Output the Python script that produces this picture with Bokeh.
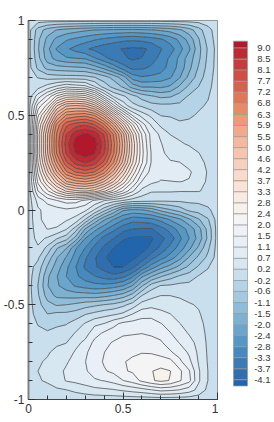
import numpy as np
from bokeh.embed import file_html
from bokeh.resources import INLINE
from bokeh.plotting import figure
from bokeh.layouts import row
from bokeh.models import Range1d, FixedTicker, ColumnDataSource
from bokeh.core.properties import value

x_values = [round(i * 0.05, 2) for i in range(21)]
y_values = [round(1 - i * 0.05, 2) for i in range(41)]

# field, rows from y=1 down to y=-1, columns x=0..1
field = [
[0]*21,
[0,-.8,-1.25,-1.5,-1.65,-1.75,-1.85,-1.92,-1.97,-2.0,-2.02,-2.05,-2.0,-1.95,-1.85,-1.75,-1.55,-1.25,-.8,-.3,0],
[0,-.95,-1.6,-2.05,-2.3,-2.45,-2.6,-2.75,-2.88,-3.0,-3.1,-3.15,-3.1,-3.0,-2.85,-2.6,-2.25,-1.75,-1.1,-.4,0],
[0,-1.0,-1.8,-2.4,-2.7,-2.95,-3.15,-3.33,-3.5,-3.6,-3.68,-3.75,-3.72,-3.6,-3.25,-3.0,-2.5,-2.0,-1.2,-.55,0],
[0,-.9,-1.7,-2.1,-2.3,-2.35,-2.4,-2.75,-3.1,-3.4,-3.6,-3.72,-3.65,-3.4,-3.1,-2.7,-2.25,-1.7,-1.15,-.5,0],
[0,-.7,-1.2,-1.3,-1.35,-1.4,-1.45,-1.7,-2.05,-2.5,-3.0,-3.35,-3.3,-3.15,-3.0,-2.6,-2.2,-1.6,-1.0,-.45,0],
[0,-.2,-.35,-.4,-.42,-.42,-.45,-.6,-.85,-1.2,-1.7,-2.55,-2.75,-2.7,-2.6,-2.4,-1.95,-1.35,-.85,-.35,0],
[0,.1,.45,.8,1.1,.95,.85,.3,-.35,-.75,-1.1,-1.65,-1.95,-1.95,-2.0,-1.85,-1.4,-.95,-.6,-.28,0],
[0,.9,1.65,2.55,3.1,3.2,3.05,2.35,1.15,.2,-.1,-.45,-.8,-1.0,-1.15,-1.1,-.85,-.55,-.35,-.2,0],
[0,1.75,2.6,4.2,5.0,5.1,5.0,4.4,3.2,1.7,.55,-.05,-.25,-.45,-.5,-.5,-.5,-.3,-.22,-.15,0],
[0,2.35,3.7,5.4,6.4,6.55,6.65,6.3,5.3,3.8,2.3,1.1,.5,.15,-.2,-.22,-.3,-.22,-.15,-.1,0],
[0,2.8,4.55,6.5,7.55,7.9,8.05,7.7,6.9,5.6,4.0,2.55,1.35,.65,.15,.0,-.1,-.12,-.08,-.06,0],
[0,3.05,5.0,6.85,8.1,8.85,9.05,8.85,8.05,6.75,5.2,3.4,1.95,.95,.6,.25,.18,.05,.0,-.02,0],
[0,3.0,5.05,6.95,8.3,9.2,9.4,9.2,8.3,6.95,5.4,3.65,2.1,1.0,.72,.42,.3,.22,.12,.03,0],
[0,3.05,5.0,6.85,8.15,9.0,9.25,9.0,8.15,6.85,5.3,3.6,2.15,1.1,.75,.6,.5,.4,.27,.1,0],
[0,2.85,4.65,6.25,7.6,8.3,8.55,8.3,7.55,6.35,4.9,3.35,2.05,1.1,.85,.72,.7,.55,.38,.18,0],
[0,2.5,4.05,5.5,6.7,7.25,7.45,7.2,6.5,5.35,4.05,2.75,1.6,.95,.85,.85,.85,.75,.5,.22,0],
[0,2.1,3.3,4.4,5.45,5.8,5.95,5.7,5.05,4.2,3.15,2.05,1.1,.8,.66,.68,.7,.66,.42,.2,0],
[0,1.55,2.35,3.15,3.8,4.1,4.2,3.95,3.4,2.7,1.95,1.2,.55,.3,.3,.3,.28,.28,.28,.18,0],
[0,.85,1.3,1.55,1.75,1.75,1.45,1.05,.7,.45,.25,.05,.0,-.05,-.1,-.1,-.1,-.08,-.08,-.03,0],
[0,.62,.85,.95,1.05,.95,.8,.2,-.45,-1.1,-1.85,-2.0,-1.95,-1.75,-1.35,-1.1,-.85,-.5,-.4,-.25,0],
[0,.6,.85,.85,.75,.55,-.2,-1.1,-1.85,-2.35,-2.75,-3.05,-3.0,-2.9,-2.65,-2.3,-2.0,-1.55,-1.1,-.65,0],
[0,.5,.7,.65,.3,-.4,-1.5,-2.2,-2.65,-3.1,-3.5,-3.65,-3.7,-3.7,-3.4,-3.05,-2.6,-2.2,-1.65,-.9,0],
[0,.4,.2,-.15,-.45,-1.25,-2.35,-2.85,-3.4,-3.65,-4.05,-4.15,-4.15,-4.15,-3.8,-3.45,-2.9,-2.35,-1.75,-.95,0],
[0,.2,-.3,-1.0,-1.45,-2.3,-2.8,-3.35,-3.75,-4.1,-4.25,-4.3,-4.25,-4.0,-3.55,-3.1,-2.6,-2.05,-1.4,-.7,0],
[0,-.1,-.75,-1.45,-1.95,-2.55,-3.15,-3.6,-4.05,-4.2,-4.25,-4.2,-3.95,-3.4,-3.0,-2.6,-2.1,-1.45,-.95,-.5,0],
[0,-.35,-1.1,-1.7,-2.25,-2.78,-3.3,-3.6,-3.85,-4.1,-4.1,-3.8,-3.2,-2.6,-2.1,-1.75,-1.35,-.95,-.55,-.2,0],
[0,-.5,-1.4,-1.9,-2.35,-2.7,-3.0,-3.2,-3.4,-3.55,-3.35,-2.9,-2.0,-1.5,-1.1,-.8,-.55,-.4,-.15,-.1,0],
[0,-.62,-1.45,-1.85,-2.15,-2.4,-2.55,-2.65,-2.65,-2.55,-2.35,-1.9,-1.1,-.4,-.15,-.12,-.05,-.05,-.05,-.03,0],
[0,-.55,-1.25,-1.6,-1.65,-1.7,-1.7,-1.75,-1.65,-1.5,-1.3,-.9,-.2,.1,.25,.25,.2,.12,.05,.03,0],
[0,-.45,-.9,-1.1,-1.05,-.95,-.8,-.7,-.6,-.5,-.3,.0,.45,.55,.55,.5,.4,.3,.22,.08,0],
[0,-.35,-.6,-.5,-.5,-.4,-.2,-.05,.1,.2,.35,.7,.95,1.0,.8,.7,.55,.42,.3,.1,0],
[0,-.2,-.35,-.25,-.2,.0,.3,.6,.7,1.0,1.25,1.3,1.35,1.3,1.15,.95,.7,.55,.4,.12,0],
[0,-.1,-.12,-.05,.0,.3,.5,.95,1.2,1.35,1.5,1.52,1.55,1.5,1.45,1.15,.9,.65,.48,.15,0],
[0,.0,.05,.2,.25,.55,.8,1.25,1.45,1.6,1.7,1.75,1.75,1.7,1.6,1.4,1.1,.85,.55,.18,0],
[0,.1,.22,.35,.45,.75,1.05,1.35,1.55,1.75,1.85,1.95,1.98,1.95,1.85,1.6,1.4,1.05,.6,.2,0],
[0,.22,.3,.45,.62,.92,1.12,1.38,1.6,1.85,1.98,2.05,2.15,2.25,2.2,2.15,1.65,1.25,.65,.22,0],
[0,.26,.35,.5,.78,.98,1.08,1.3,1.52,1.65,1.95,2.05,2.3,2.42,2.55,2.45,2.1,1.6,.75,.25,0],
[0,.23,.3,.48,.72,.8,.92,1.08,1.15,1.3,1.55,1.75,2.1,2.38,2.55,2.42,2.05,1.7,.75,.25,0],
[0,.1,.15,.2,.25,.35,.45,.55,.6,.65,.75,.85,.95,1.1,1.25,1.2,1.1,.9,.55,.15,0],
[0]*21,
]

# colour-bar tick labels and the contour levels behind them, top to bottom
tick_labels = ["9.0","8.5","8.1","7.7","7.2","6.8","6.3","5.9","5.5","5.0","4.6","4.2","3.7","3.3","2.8","2.4",
               "2.0","1.5","1.1","0.7","0.2","-0.2","-0.6","-1.1","-1.5","-2.0","-2.4","-2.8","-3.3","-3.7","-4.1"]
levels = [8.97,8.53,8.10,7.66,7.23,6.79,6.35,5.92,5.48,5.05,4.61,4.18,3.74,3.31,2.87,2.44,
          2.00,1.56,1.13,.69,.26,-.18,-.61,-1.05,-1.48,-1.92,-2.35,-2.79,-3.22,-3.66,-4.09]
top_end, bottom_end = 9.24, -4.33
colors = ["#B2182B","#BE2A34","#C73B3D","#D04F45","#D9604E","#E07758","#E88A66","#EE9A78","#F2A98A","#F5B79D","#F7C4AE",
          "#F9CFBD","#FADACB","#FBE3D8","#F9EAE2","#F7F1EC","#F4F4F4","#EEF2F6","#E8EFF6","#E1ECF5","#D7E7F1","#C9DFED",
          "#B4D3E6","#A3C9E0","#8FBDD9","#7CB1D2","#6AA5CD","#5597C5","#4689BE","#3A7BB5","#2F6FAF","#2166AC"]

x_ticks = [0, 0.5, 1]
y_ticks = [-1, -0.5, 0, 0.5, 1]
x_tick_labels = {0: "0", 0.5: "0.5", 1: "1"}
y_tick_labels = {-1: "-1", -0.5: "-0.5", 0: "0", 0.5: "0.5", 1: "1"}
x_minor = [i / 10 for i in range(11)]
y_minor = [i / 10 for i in range(-10, 11)]

p = figure(frame_width=189, frame_height=379, x_range=Range1d(0, 1), y_range=Range1d(-1, 1),
           output_backend="svg", toolbar_location=None, min_border_left=20, min_border_right=1,
           min_border_top=20, min_border_bottom=15)
p.grid.visible = False
p.outline_line_color = "#808080"
p.outline_line_width = 1

z = np.array(field, dtype=float)[::-1]
ys = np.array(y_values)[::-1]
asc = [-9.0] + levels[::-1] + [12.0]
p.contour(np.array(x_values), ys, z, levels=asc, fill_color=colors[::-1], line_color="#3a3a3a", line_width=0.7)

for ax, ticks, minor, labels in ((p.xaxis[0], x_ticks, x_minor, x_tick_labels), (p.yaxis[0], y_ticks, y_minor, y_tick_labels)):
    ax.ticker = FixedTicker(ticks=ticks, minor_ticks=minor)
    ax.major_label_overrides = labels
    ax.major_tick_in = 7
    ax.major_tick_out = 0
    ax.minor_tick_in = 4
    ax.minor_tick_out = 0
    ax.major_label_standoff = 4
    ax.major_label_text_font = "Liberation Sans"
    ax.major_label_text_font_size = "12px"
    ax.major_label_text_color = "#333333"
    ax.major_tick_line_color = "#333333"
    ax.minor_tick_line_color = "#333333"
    ax.axis_line_color = "#444444"
p.yaxis[0].major_label_orientation = "horizontal"
p.yaxis[0].axis_line_color = "#808080"
p.yaxis[0].axis_line_width = 2

# the layout gives this figure the same frame height as the main one
bar = figure(width=53, frame_height=379, x_range=Range1d(0, 53), y_range=Range1d(-4.863, 10.052),
             output_backend="svg", toolbar_location=None, min_border_left=0, min_border_right=0,
             min_border_top=20, min_border_bottom=15, outline_line_color=None)
bar.axis.visible = False
bar.grid.visible = False
edges = [top_end] + levels + [bottom_end]
src = ColumnDataSource(dict(top=edges[:-1], bottom=edges[1:], color=colors))
bar.quad(left=15, right=29, top="top", bottom="bottom", fill_color="color", line_color="#999999", line_width=0.7, source=src)
lab = ColumnDataSource(dict(y=levels, text=tick_labels))
bar.text(x=52, y="y", text="text", source=lab, text_align="right", text_baseline="middle",
         text_font=value("Liberation Sans"), text_font_size="9.5px", text_color="#333333")

open("out.html", "w").write(file_html(row(p, bar), INLINE))
